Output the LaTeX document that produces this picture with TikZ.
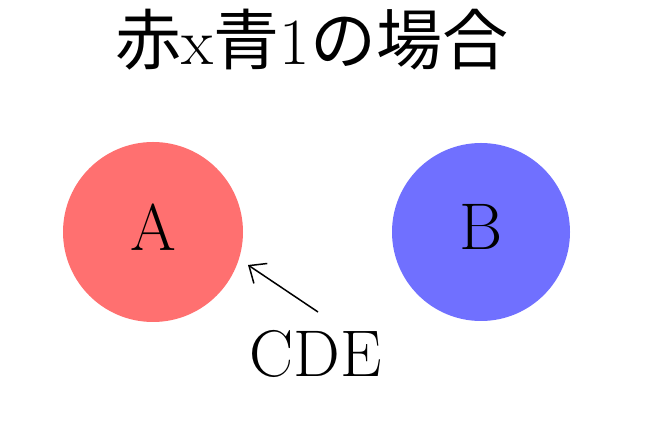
\documentclass[tikz,border=0pt]{standalone}
\usepackage{fontspec}
\newfontfamily\cjk{Noto Sans CJK JP}
\usetikzlibrary{arrows.meta}
\definecolor{myred}{HTML}{FF7070}
\definecolor{myblue}{HTML}{7070FF}
\tikzset{circ/.style={circle,minimum size=180pt,inner sep=0pt},
big/.style={font=\fontsize{66}{66}\selectfont}}
\begin{document}
\begin{tikzpicture}[x=1pt,y=1pt]
\useasboundingbox (0,0) rectangle (650,430);
\node[big] (title) at (312,390) {{\cjk 赤}x{\cjk 青}1{\cjk の場合}};
\node[circ,fill=myred] (a) at (153,198) {};
\node[circ,fill=myblue,minimum size=178pt] (b) at (481,198) {};
\node[big] (la) at (153,203) {A};
\node[big] (lb) at (481,203) {B};
\node[big] (cde) at (316,76) {CDE};
\coordinate (tip) at (248,165);
\draw[line width=1.5pt,-{Straight Barb[length=14pt,width=24pt]}] (318,118) coordinate (s) -- (tip);
\end{tikzpicture}
\end{document}
